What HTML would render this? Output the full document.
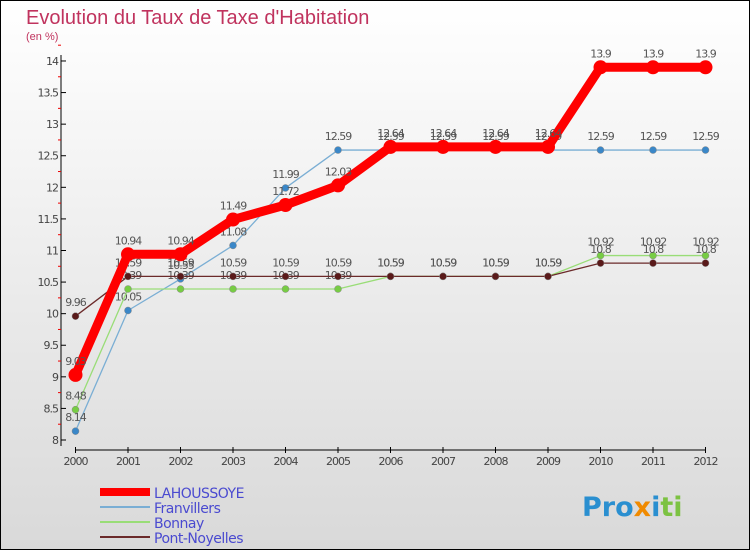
<!DOCTYPE html>
<html><head><meta charset="utf-8"><style>
body{margin:0;width:750px;height:550px;overflow:hidden}
svg{display:block;font-family:"DejaVu Sans","Liberation Sans",sans-serif}
</style></head><body>
<svg width="750" height="550" viewBox="0 0 750 550" xmlns="http://www.w3.org/2000/svg">
<defs><linearGradient id="bg" x1="0" y1="0" x2="0" y2="1"><stop offset="0" stop-color="#ffffff"/><stop offset="1" stop-color="#d9d9d9"/></linearGradient></defs>
<rect x="0.5" y="0.5" width="749" height="549" fill="url(#bg)" stroke="#000"/>
<text x="26" y="24" font-size="20" fill="#c0335e" font-family="Liberation Sans, sans-serif">Evolution du Taux de Taxe d'Habitation</text>
<text x="26" y="40" font-size="11" fill="#c0335e" font-family="Liberation Sans, sans-serif">(en %)</text>
<g id="axes"></g><g id="series"></g><g id="legend"></g>
<text x="582" y="516" font-size="27" font-weight="bold"><tspan fill="#2a8fd0">Pro</tspan><tspan fill="#f08a00">x</tspan><tspan fill="#2a8fd0">i</tspan><tspan fill="#7cc242">ti</tspan></text>
</svg>
<script>
const years=[2000,2001,2002,2003,2004,2005,2006,2007,2008,2009,2010,2011,2012];
const yTicks=[8,8.5,9,9.5,10,10.5,11,11.5,12,12.5,13,13.5,14];
const lahoussoye=[9.03,10.94,10.94,11.49,11.72,12.03,12.64,12.64,12.64,12.64,13.9,13.9,13.9];
const franvillers=[8.14,10.05,10.55,11.08,11.99,12.59,12.59,12.59,12.59,12.59,12.59,12.59,12.59];
const bonnay=[8.48,10.39,10.39,10.39,10.39,10.39,10.59,10.59,10.59,10.59,10.92,10.92,10.92];
const pontNoyelles=[9.96,10.59,10.59,10.59,10.59,10.59,10.59,10.59,10.59,10.59,10.8,10.8,10.8];
const NS="http://www.w3.org/2000/svg";
const X=i=>75.5+i*52.5, Y=v=>440-(v-8)*63.17;
function mk(tag,attrs,parent){const e=document.createElementNS(NS,tag);for(const k in attrs)e.setAttribute(k,attrs[k]);parent.appendChild(e);return e;}
const ax=document.getElementById('axes');
let yl=mk('line',{x1:61,y1:55,x2:61,y2:446,stroke:'#000'},ax);

let xl=mk('line',{x1:75,y1:450,x2:706,y2:450,stroke:'#000'},ax);

yTicks.forEach(v=>{const y=Y(v);
 mk('line',{x1:61,y1:y,x2:66,y2:y,stroke:'#000'},ax);
 mk('line',{x1:58,y1:Y(v+0.25),x2:61,y2:Y(v+0.25),stroke:'#e00'},ax);
 const t=mk('text',{x:58,y:y+4,'font-size':11,fill:'#444','text-anchor':'end','letter-spacing':'-1'},ax);t.textContent=String(v);
 });
years.forEach((yr,i)=>{mk('line',{x1:X(i),y1:447,x2:X(i),y2:453,stroke:'#000'},ax);
 const t=mk('text',{x:X(i),y:465,'font-size':11,fill:'#444','text-anchor':'middle','letter-spacing':'-1'},ax);t.textContent=yr;
 });
const defs=[
 {name:'franvillers',label:'Franvillers',data:franvillers,c:'#7aaed4',mc:'#3a87c8',w:1.3,r:3.5},
 {name:'bonnay',label:'Bonnay',data:bonnay,c:'#99dd77',mc:'#77cc44',w:1.3,r:3.5},
 {name:'pont-noyelles',label:'Pont-Noyelles',data:pontNoyelles,c:'#6b2a2a',mc:'#5a1a1a',w:1.3,r:3.5},
 {name:'lahoussoye',label:'LAHOUSSOYE',data:lahoussoye,c:'#ff0000',mc:'#ff0000',w:9,r:7}];
const sg=document.getElementById('series');
defs.forEach(s=>{const g=mk('g',{},sg);
 const p=mk('polyline',{points:s.data.map((v,i)=>X(i)+','+Y(v)).join(' '),fill:'none',stroke:s.c,'stroke-width':s.w,'stroke-linejoin':'round'},g);
 
 s.data.forEach((v,i)=>{const c=mk('circle',{cx:X(i),cy:Y(v),r:s.r,fill:s.mc,stroke:s.w>2?'none':'#888','stroke-width':0.5},g);
  
  const t=mk('text',{x:X(i),y:Y(v)-10,'font-size':11,fill:'#555','text-anchor':'middle','letter-spacing':'-1'},g);t.textContent=String(v);
  });});
const lg=document.getElementById('legend');
[defs[3],defs[0],defs[1],defs[2]].forEach((s,k)=>{const y=492+k*15;const g=mk('g',{},lg);
 
 mk('line',{x1:100,y1:y,x2:150,y2:y,stroke:s.c,'stroke-width':s.w>2?8:2},g);
 const t=mk('text',{x:154,y:y+6,'font-size':14,fill:'#4a4ad0','letter-spacing':'-0.5'},g);t.textContent=s.label;});
</script>
</body></html>
